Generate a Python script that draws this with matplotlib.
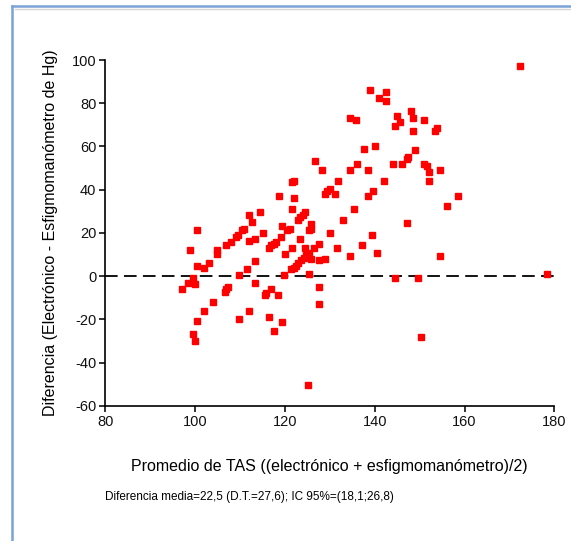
import matplotlib
matplotlib.use('Agg')
import matplotlib.pyplot as plt
from matplotlib.lines import Line2D

plt.rcParams['font.family'] = ['Liberation Sans', 'DejaVu Sans']
plt.rcParams['axes.unicode_minus'] = False

# promedio de TAS (x) y diferencia (y)
promedio = [97.1, 98.4, 99.5, 100.0, 98.9, 100.4, 100.4, 102.0, 103.1, 104.9,
            104.9, 106.8, 107.9, 109.0, 109.6, 110.4, 110.9, 112.1, 112.6, 112.1,
            113.4, 114.5, 115.1, 113.4, 111.5, 109.8, 99.6, 100.0, 100.4, 102.0,
            103.9, 106.6, 106.9, 107.4, 109.8, 112.1, 113.3, 115.6, 115.9, 116.9,
            116.4, 117.5, 118.5, 119.4, 119.9, 116.4, 116.9, 117.5, 118.0, 118.7,
            119.1, 119.3, 120.0, 120.5, 121.1, 121.5, 122.1, 122.1, 121.6, 122.9,
            123.4, 124.0, 124.5, 125.9, 125.8, 125.3, 123.4, 121.6, 124.5, 126.4,
            127.5, 125.3, 124.8, 124.2, 123.6, 123.0, 122.5, 122.0, 121.4, 125.9,
            127.5, 128.9, 125.4, 127.5, 127.5, 125.1, 126.6, 128.3, 131.9, 130.0,
            129.4, 128.9, 131.1, 130.0, 133.0, 131.6, 135.4, 134.6, 137.1, 139.5,
            140.6, 138.4, 139.6, 142.0, 134.6, 138.4, 136.0, 137.6, 140.1, 134.6,
            135.9, 138.9, 142.5, 140.9, 142.5, 145.0, 148.0, 148.5, 151.0, 145.6,
            144.5, 148.5, 153.9, 153.4, 149.0, 144.1, 146.1, 147.1, 147.5, 151.0,
            151.6, 152.1, 154.5, 152.1, 158.6, 156.1, 147.1, 154.5, 144.5, 149.6,
            150.2, 172.4, 178.4]
diferencia = [-6.1, -3.1, -0.8, -3.7, 12.0, 21.2, 4.9, 3.9, 6.1, 12.0,
              10.3, 14.2, 16.0, 18.3, 19.0, 21.2, 21.8, 28.1, 25.2, 16.1,
              17.2, 29.5, 20.1, 7.2, 3.4, 0.3, -27.0, -29.9, -20.6, -16.0,
              -12.0, -7.3, -6.1, -4.9, -20.0, -16.0, -3.1, -8.9, -7.8, -6.1,
              -18.8, -25.3, -8.9, -21.2, 0.3, 13.1, 14.2, 14.9, 15.8, 37.0,
              18.3, 23.0, 10.2, 21.3, 21.9, 43.4, 43.8, 36.3, 31.2, 25.9,
              27.2, 28.4, 29.5, 24.3, 21.8, 21.3, 17.1, 13.2, 13.2, 13.2,
              14.9, 10.8, 9.7, 8.5, 7.3, 6.2, 4.9, 3.9, 3.2, 7.9,
              7.3, 7.9, 0.9, -4.9, -13.1, -50.3, 53.2, 49.1, 43.8, 40.4,
              39.4, 38.1, 38.1, 20.1, 25.9, 13.1, 31.2, 9.1, 14.2, 18.8,
              10.8, 37.0, 39.4, 43.8, 49.1, 49.1, 52.0, 58.9, 60.2, 73.0,
              72.4, 86.3, 85.2, 82.3, 81.2, 74.1, 76.4, 73.0, 72.4, 71.2,
              69.4, 67.1, 68.4, 67.1, 58.5, 52.0, 52.0, 54.3, 55.1, 52.0,
              50.8, 48.0, 49.1, 43.8, 37.0, 32.3, 24.4, 9.1, -0.8, -0.8,
              -28.2, 97.4, 0.9]

xticks = [80, 100, 120, 140, 160, 180]
yticks = [-60, -40, -20, 0, 20, 40, 60, 80, 100]

fig = plt.figure(figsize=(5.71, 5.41), dpi=100)
ax = fig.add_axes([0.1844, 0.250, 0.7864, 0.639])

ax.axhline(0, color='black', lw=1.3, ls=(0, (7, 3.5)), zorder=1)
ax.plot(promedio, diferencia, 's', color='#ff0000', ms=3.8, mec='#ff0000', zorder=2, clip_on=False)

ax.set_xlim(80, 180)
ax.set_ylim(-60, 100)
ax.set_xticks(xticks)
ax.set_yticks(yticks)
for s in ['top', 'right']:
    ax.spines[s].set_visible(False)
for s in ['left', 'bottom']:
    ax.spines[s].set_linewidth(1.2)
ax.tick_params(direction='out', length=4, width=1.2, pad=2.5, labelsize=10.5, colors='#111111')

ax.set_xlabel('Promedio de TAS ((electrónico + esfigmomanómetro)/2)', fontsize=11.5, labelpad=22)
ax.set_ylabel('Diferencia (Electrónico - Esfigmomanómetro de Hg)', fontsize=11.5, labelpad=10)

fig.text(0.1844, 0.081, 'Diferencia media=22,5 (D.T.=27,6); IC 95%=(18,1;26,8)',
         fontsize=8.5, ha='left', va='center')

# marco de la captura
fig.add_artist(Line2D([12/571, 1], [1-6/541, 1-6/541], color='#7aa3d6', lw=1.8))
fig.add_artist(Line2D([15/571, 1], [1-9/541, 1-9/541], color='#d4d4d4', lw=1.0))
fig.add_artist(Line2D([12/571, 12/571], [0, 1-6/541], color='#7aa3d6', lw=1.8))

fig.savefig('out.png', dpi=100)
